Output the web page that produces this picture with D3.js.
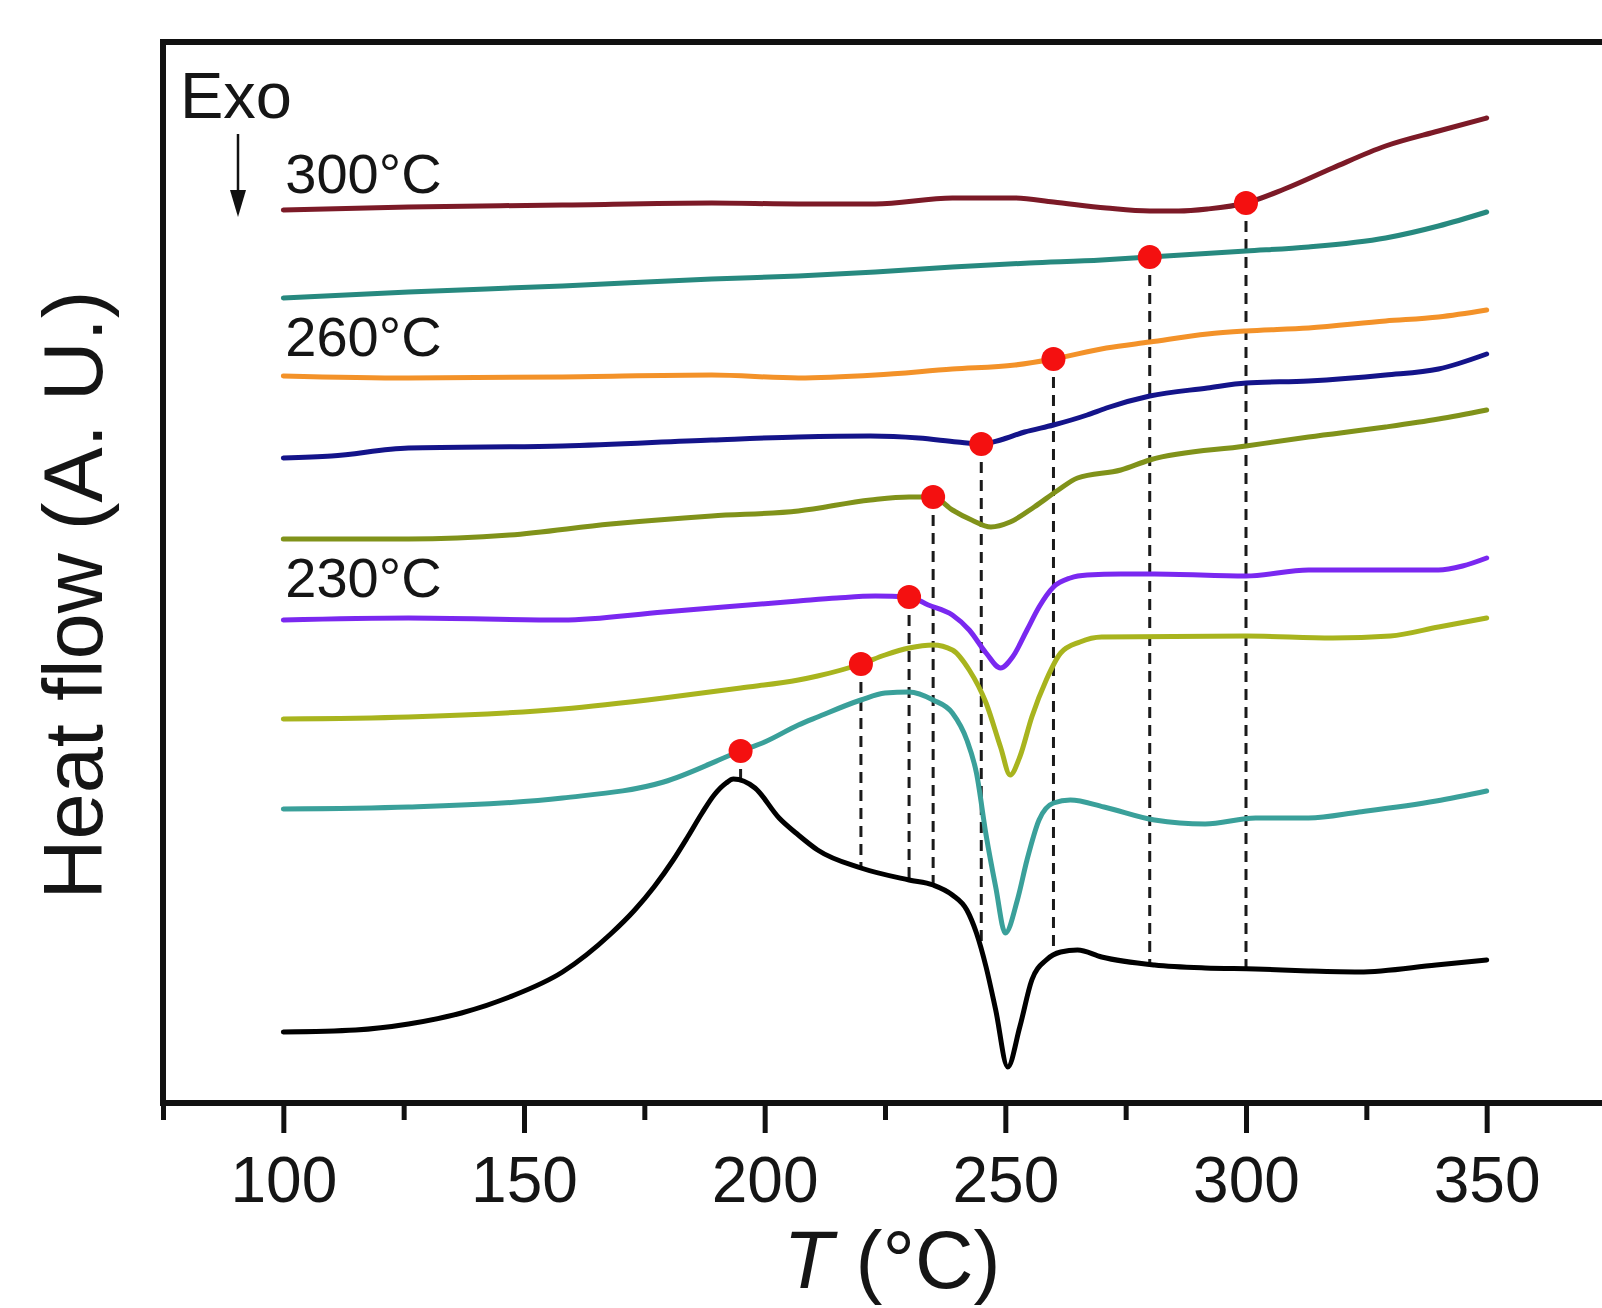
<!DOCTYPE html>
<html>
<head>
<meta charset="utf-8">
<script src="https://cdn.jsdelivr.net/npm/d3@7"></script>
<style>
  html, body { margin: 0; padding: 0; background: #ffffff; }
  svg { display: block; }
  text { font-family: "Liberation Sans", Arial, Helvetica, sans-serif; fill: #151515; }
</style>
</head>
<body>
<svg id="chart" width="1602" height="1308"></svg>
<script>
// ---------------- DATA (heat flow in arbitrary units) ----------------
// Series are named by the temperature marked with the red dot on each DSC trace.
const s300_T  = [100,126,158,189,207,223,239,252,260,271,280,286,292,300,308,318,329,340,350];
const s300_HF = [89.3,89.6,89.8,90.0,89.9,89.9,90.5,90.5,90.1,89.5,89.2,89.2,89.4,90.0,91.4,93.5,95.7,97.2,98.5];

const s280_T  = [100,126,158,189,207,223,239,255,270,280,300,313,329,340,350];
const s280_HF = [80.5,81.1,81.7,82.4,82.7,83.1,83.6,84.0,84.3,84.6,85.2,85.6,86.5,87.7,89.1];

const s260_T  = [100,126,158,189,207,223,239,252,260,271,280,292,300,313,329,340,350];
const s260_HF = [72.7,72.5,72.6,72.8,72.5,72.8,73.4,73.8,74.4,75.5,76.1,76.9,77.2,77.5,78.2,78.6,79.3];

const s245_T  = [100,110,126,158,189,207,222,232,240,245,249,254,260,267,271,280,292,300,313,329,340,350];
const s245_HF = [64.5,64.7,65.5,65.7,66.3,66.6,66.7,66.5,66.1,65.9,66.3,67.1,67.8,68.8,69.5,70.7,71.5,72.0,72.2,72.8,73.4,74.9];

const s235_T  = [100,126,147,168,189,207,222,230,235,239,243,247,251,256,261,265,274,280,300,313,329,340,350];
const s235_HF = [56.4,56.4,56.8,57.9,58.7,59.2,60.3,60.6,60.6,59.3,58.3,57.6,58.1,59.6,61.3,62.5,63.3,64.3,65.7,66.6,67.6,68.4,69.3];

const s230_T  = [100,126,158,179,207,215,223,230,234,239,242.5,246,249,251.5,254.5,257,260,263.5,267,274,281,300,313,340,345,350];
const s230_HF = [48.3,48.5,48.3,49.1,50.2,50.5,50.7,50.6,49.8,48.8,47.3,45.0,43.5,44.6,47.3,49.6,51.6,52.5,52.8,52.9,52.9,52.7,53.3,53.3,53.7,54.5];

const s220_T  = [100,126,158,179,195,207,211,220,225,230,235,239,242.5,246,249,251,253,255.5,258.5,261.5,265.5,270,300,318,330,340,350];
const s220_HF = [38.4,38.6,39.4,40.5,41.5,42.3,42.7,43.9,44.8,45.5,45.8,45.3,43.3,40.0,35.6,32.8,34.6,38.6,42.3,45.0,46.1,46.6,46.7,46.5,46.7,47.6,48.5];

const s195_T  = [100,126,158,179,195,200,207,211,220,225,230,235,239,242,244,246,248,250,252.5,254.5,257,260,263.5,270.5,281,291.5,302,313,323.5,339.5,350];
const s195_HF = [29.4,29.6,30.5,32.1,35.2,36.1,37.8,38.6,40.3,41.0,41.1,40.3,39.0,36.3,33.0,26.8,21.6,17.0,20.3,24.3,28.3,30.0,30.3,29.6,28.3,27.9,28.5,28.5,29.1,30.2,31.2];

const base_T  = [100,115,126,137,147,158,168,173,177,181,184,187,189.5,192,193.5,198,203,207,211,220,230,235,239,242,244,246,248,250.5,253,255.5,258.5,261.5,265,270,281,291.5,302,313,323.5,339.5,350];
const base_HF = [7.1,7.3,7.9,9.0,10.6,13.1,16.9,19.3,21.6,24.3,26.6,29.0,30.8,32.0,32.4,31.5,28.5,26.8,25.3,23.5,22.3,21.8,20.8,19.3,17.0,13.6,9.3,3.6,7.6,12.3,14.3,15.1,15.3,14.6,13.8,13.5,13.4,13.2,13.1,13.8,14.3];

const seriesColors = ["#7c1a27","#27897f","#f39229","#14148a","#80921a","#7a28f0","#a8b41e","#3aa09a","#000000"];
const markerTemps  = [300,280,260,245,235,230,220,195];

const xMajorTicks = [100,150,200,250,300,350];
const xMinorTicks = [75,125,175,225,275,325,375];
const xDomain = [75,375];
const yDomain = [0,106.1];

const curveLabels   = ["300°C","260°C","230°C"];
const curveLabelIdx = [0,2,5];

// ---------------- BUILD ----------------
const seriesT  = [s300_T,s280_T,s260_T,s245_T,s235_T,s230_T,s220_T,s195_T,base_T];
const seriesHF = [s300_HF,s280_HF,s260_HF,s245_HF,s235_HF,s230_HF,s220_HF,s195_HF,base_HF];
const series = seriesT.map((T,i) => ({
  color: seriesColors[i],
  pts: T.map((t,j) => ({t, v: seriesHF[i][j]}))
}));

const L = 163, R = 1607, TOP = 42, BOT = 1103;
const svg = d3.select("#chart");
const x = d3.scaleLinear().domain(xDomain).range([L, R]);
const y = d3.scaleLinear().domain(yDomain).range([BOT, TOP]);

function interp(pts, t) {
  for (let k = 0; k < pts.length - 1; k++) {
    const a = pts[k], b = pts[k+1];
    if (t >= a.t && t <= b.t) return a.v + (b.v - a.v) * (t - a.t) / (b.t - a.t);
  }
  return pts[pts.length-1].v;
}

const base = series[series.length - 1];

// dashed drop lines (from marker down to the baseline trace)
svg.append("g").selectAll("line").data(markerTemps).join("line")
  .attr("x1", d => x(d)).attr("x2", d => x(d))
  .attr("y1", (d,i) => y(interp(series[i].pts, d)))
  .attr("y2", d => y(interp(base.pts, d)))
  .attr("stroke", "#1a1a1a").attr("stroke-width", 3)
  .attr("stroke-dasharray", "11,7");

// traces
const line = d3.line().x(d => x(d.t)).y(d => y(d.v)).curve(d3.curveMonotoneX);
svg.append("g").selectAll("path").data(series).join("path")
  .attr("d", d => line(d.pts))
  .attr("fill", "none")
  .attr("stroke", d => d.color)
  .attr("stroke-width", 5)
  .attr("stroke-linejoin", "round")
  .attr("stroke-linecap", "round");

// red markers
svg.append("g").selectAll("circle").data(markerTemps).join("circle")
  .attr("cx", d => x(d))
  .attr("cy", (d,i) => y(interp(series[i].pts, d)))
  .attr("r", 12)
  .attr("fill", "#f41010");

// frame
svg.append("rect")
  .attr("x", L).attr("y", TOP).attr("width", R - L).attr("height", BOT - TOP)
  .attr("fill", "none").attr("stroke", "#111").attr("stroke-width", 6);

// x axis ticks
const gMinor = svg.append("g").attr("transform", `translate(0,${BOT})`)
  .call(d3.axisBottom(x).tickValues(xMinorTicks).tickSize(17).tickFormat(""));
gMinor.select(".domain").remove();
gMinor.selectAll(".tick line").attr("stroke", "#111").attr("stroke-width", 5);

const gMajor = svg.append("g").attr("transform", `translate(0,${BOT})`)
  .call(d3.axisBottom(x).tickValues(xMajorTicks).tickSize(30).tickPadding(24).tickFormat(d3.format("d")));
gMajor.select(".domain").remove();
gMajor.selectAll(".tick line").attr("stroke", "#111").attr("stroke-width", 5);
gMajor.selectAll(".tick text")
  .attr("font-family", '"Liberation Sans", Arial, sans-serif')
  .attr("font-size", 64).attr("fill", "#151515");

// axis titles
const xt = svg.append("text")
  .attr("x", 892).attr("y", 1288)
  .attr("text-anchor", "middle").attr("font-size", 81);
xt.append("tspan").attr("font-style", "italic").text("T");
xt.append("tspan").text(" (°C)");

svg.append("text")
  .attr("transform", "translate(102,595) rotate(-90)")
  .attr("text-anchor", "middle").attr("font-size", 83)
  .text("Heat flow (A. U.)");

// Exo arrow
svg.append("text").attr("x", 180).attr("y", 118).attr("font-size", 65).text("Exo");
svg.append("line").attr("x1", 238).attr("x2", 238).attr("y1", 134).attr("y2", 196)
  .attr("stroke", "#111").attr("stroke-width", 2.5);
svg.append("path").attr("d", "M230,190 L246,190 L238,217 Z").attr("fill", "#111");

// curve labels
const labelOffsets = [-17, -20, -23];
svg.append("g").selectAll("text").data(curveLabels).join("text")
  .attr("x", x(100) + 2)
  .attr("y", (d,i) => y(series[curveLabelIdx[i]].pts[0].v) + labelOffsets[i])
  .attr("font-size", 56)
  .text(d => d);
</script>
</body>
</html>
